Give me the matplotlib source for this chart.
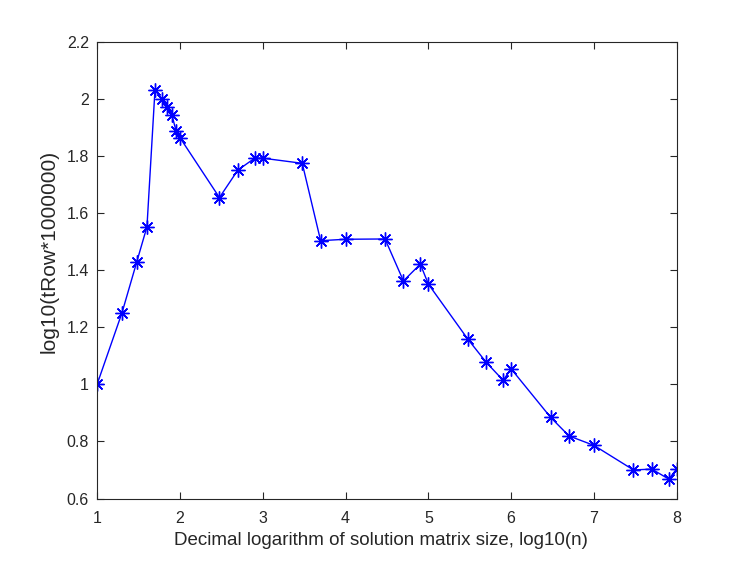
import matplotlib
matplotlib.use("Agg")
import matplotlib.pyplot as plt
import numpy as np

# matrix sizes n, plotted as log10(n)
sizes = [10, 20, 30, 40, 50, 60, 70, 80, 90, 100,
         300, 500, 800, 1000, 3000, 5000, 10000,
         30000, 50000, 80000, 100000, 300000, 500000, 800000, 1000000,
         3000000, 5000000, 10000000, 30000000, 50000000, 80000000, 100000000]
log_trow = [1.0, 1.251, 1.427, 1.552, 2.032, 1.998, 1.971, 1.943, 1.887, 1.864,
            1.654, 1.750, 1.792, 1.792, 1.774, 1.503, 1.508,
            1.509, 1.362, 1.421, 1.351, 1.158, 1.077, 1.014, 1.054,
            0.884, 0.819, 0.786, 0.700, 0.703, 0.668, 0.704]

plt.rcParams["font.family"] = ["Liberation Sans", "DejaVu Sans"]

fig = plt.figure(figsize=(7.47, 5.61), dpi=100)
ax = fig.add_axes([0.13, 0.1114, 0.776, 0.8143])

# matlab style asterisk: plus and cross on top of each other
ax.plot(np.log10(sizes), log_trow, color="#0000ff", lw=1.0, marker=(8, 2, 0),
        markersize=10, markeredgewidth=1.0)

ax.set_xlim(1, 8)
ax.set_ylim(0.6, 2.2)
ax.set_xticks(range(1, 9))
ax.set_yticks(np.arange(0.6, 2.21, 0.2))
ax.set_yticklabels(["0.6", "0.8", "1", "1.2", "1.4", "1.6", "1.8", "2", "2.2"])

grey = "#262626"
for s in ax.spines.values():
    s.set_color(grey)
    s.set_linewidth(0.8)
ax.tick_params(direction="in", top=True, right=True, length=5, width=0.8,
               colors=grey, labelsize=11.5)
ax.tick_params(axis="x", pad=9)
ax.tick_params(axis="y", pad=6)

ax.set_xlabel("Decimal logarithm of solution matrix size, log10(n)", fontsize=13.5, color=grey)
ax.set_ylabel("log10(tRow*1000000)", fontsize=15, color=grey)
ax.xaxis.set_label_coords(0.489, -0.073)
ax.yaxis.set_label_coords(-0.0667, 0.54)

fig.savefig("out.png", dpi=100)
